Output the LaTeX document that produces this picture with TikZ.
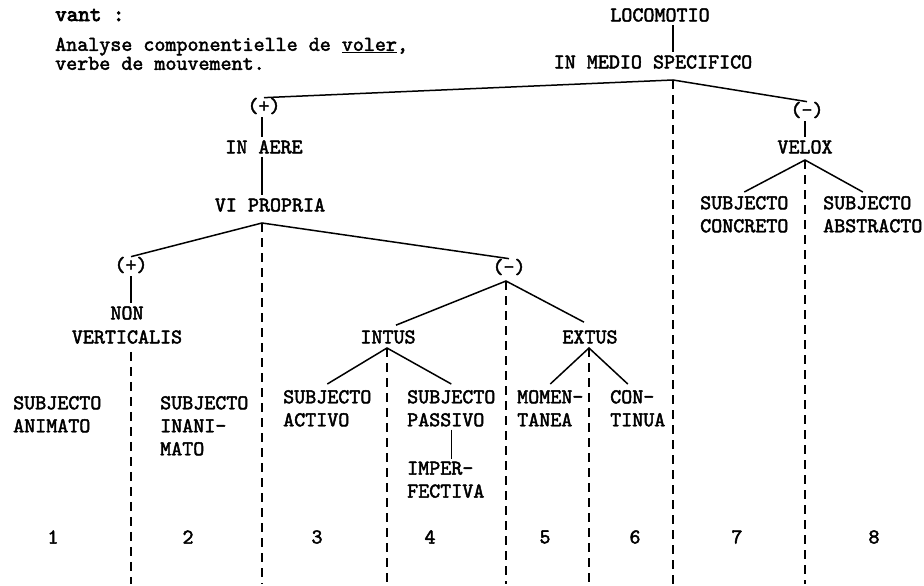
\documentclass[tikz,border=0pt]{standalone}
\usepackage{fontspec}
\newfontfamily\typewriter{lmmono10-regular.otf}[FakeBold=2.2]
\newfontfamily\typewriterheavy{lmmono10-regular.otf}[FakeBold=3.5]
\newcommand\treefont{\typewriter\fontsize{21}{23}\selectfont}
\tikzset{
  word/.style={font=\treefont, inner sep=0pt},
  leaf/.style={font=\treefont, inner sep=0pt, align=left, anchor=north west},
  branch/.style={line width=1.5pt},
  stem/.style={line width=1.5pt, shorten <=3pt, shorten >=3pt},
  dashline/.style={line width=1.5pt, dash pattern=on 9pt off 6pt},
}
\begin{document}
\begin{tikzpicture}[x=1pt,y=-1pt]
  \useasboundingbox (0,0) rectangle (924,586);
  \coordinate (bottom) at (0,584);
  % heading
  \node[word, anchor=west, font=\typewriterheavy\fontsize{22}{23}\selectfont] (vant) at (55,15) {vant :};
  \node[leaf] (title) at (55,37.5) {Analyse componentielle de \underline{voler},\\[-4pt]verbe de mouvement.};
  % top of the tree
  \node[word] (loco) at (660,15) {LOCOMOTIO};
  \node[word] (medio) at (653,62) {IN MEDIO SPECIFICO};
  \coordinate (top) at (673,80);
  \draw[stem] (loco.south -| top) -- (medio.north -| top);
  \node[word] (plusA) at (264,106) {(+)};
  \node[word] (minusA) at (807,110) {(-)};
  \draw[branch] (plusA.north) -- (top) -- (minusA.north);
  \draw[dashline] (top) -- (top |- bottom);
  % in aere
  \coordinate (vpA) at (262,223);
  \node[word] (aere) at (264,147) {IN AERE};
  \node[word] (vipr) at (270,205) {VI PROPRIA};
  \draw[stem] (plusA.south -| vpA) -- (aere.north -| vpA);
  \draw[stem] (aere.south -| vpA) -- (vipr.north -| vpA);
  \node[word] (plusB) at (131,265) {(+)};
  \node[word] (minusB) at (509,267) {(-)};
  \draw[branch] (plusB.north) -- (vpA) -- (minusB.north);
  \draw[dashline] (vpA) -- (vpA |- bottom);
  \node[word, align=center] (nonv) at (127,325) {NON\\[1pt]VERTICALIS};
  \draw[stem] (plusB.south) -- (nonv.north -| plusB);
  \draw[dashline, shorten <=8pt] (nonv.south -| plusB) -- (plusB |- bottom);
  % intus, extus
  \coordinate (mbA) at (506,281);
  \coordinate (inA) at (387,348);
  \coordinate (exA) at (589,348);
  \node[word] (intus) at (388,337) {INTUS};
  \node[word] (extus) at (590,337) {EXTUS};
  \draw[branch] ([xshift=8pt,yshift=5pt]intus.north) -- (mbA) -- ([xshift=-6pt,yshift=8pt]extus.north);
  \draw[dashline] (mbA) -- (mbA |- bottom);
  \node[leaf] (animato) at (13,396) {SUBJECTO\\ANIMATO};
  \node[leaf] (inanimato) at (160,396) {SUBJECTO\\INANI-\\MATO};
  \node[leaf] (activo) at (283,390) {SUBJECTO\\ACTIVO};
  \node[leaf] (passivo) at (407,390) {SUBJECTO\\PASSIVO};
  \node[leaf] (imper) at (407,461.5) {IMPER-\\FECTIVA};
  \node[leaf] (momen) at (517,390) {MOMEN-\\TANEA};
  \node[leaf] (con) at (610,390) {CON-\\TINUA};
  \draw[branch] ([yshift=6pt]activo.north) -- (inA) -- ([yshift=6pt]passivo.north);
  \draw[branch] ([yshift=6pt]momen.north) -- (exA) -- ([xshift=-10pt,yshift=6pt]con.north);
  \draw[stem] (passivo.south) -- (passivo.south |- imper.north);
  \draw[dashline] (inA) -- (inA |- bottom);
  \draw[dashline] (exA) -- (exA |- bottom);
  % velox
  \coordinate (velA) at (805,160);
  \node[word] (velox) at (805,147) {VELOX};
  \draw[stem] (minusA.south -| velA) -- (velox.north -| velA);
  \node[leaf] (concreto) at (700,196) {SUBJECTO\\CONCRETO};
  \node[leaf] (abstracto) at (823,196) {SUBJECTO\\ABSTRACTO};
  \draw[branch] ([yshift=4pt]concreto.north) -- (velA) -- ([xshift=-10pt,yshift=4pt]abstracto.north);
  \draw[dashline] (velA) -- (velA |- bottom);
  % numbers
  \foreach \n/\x in {1/53,2/188,3/317,4/430,5/545,6/635,7/737,8/874}
    \node[word] (num\n) at (\x,537) {\n};
\end{tikzpicture}
\end{document}
